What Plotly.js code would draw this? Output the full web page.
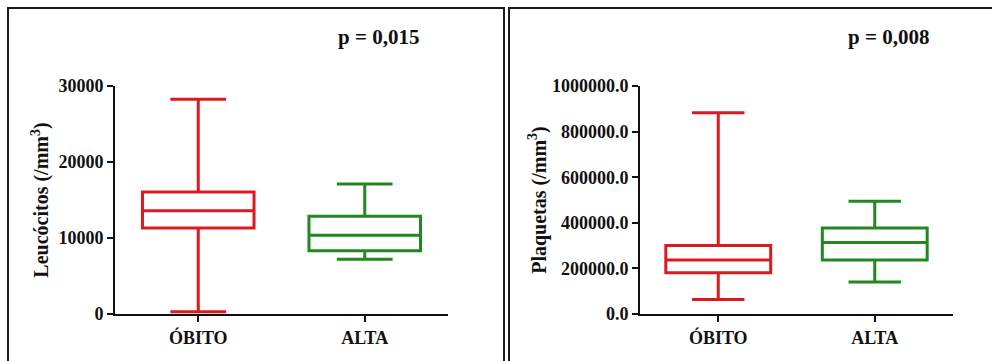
<!DOCTYPE html>
<html>
<head>
<meta charset="utf-8">
<script src="https://cdn.plot.ly/plotly-3.0.1.min.js"></script>
<style>
  html, body { margin: 0; padding: 0; background: #ffffff; }
  #chart { width: 992px; height: 361px; }
</style>
</head>
<body>
<div id="chart"></div>
<script>
// Categories
const categories = ['ÓBITO', 'ALTA'];

// Leucócitos (/mm3) box statistics [ÓBITO, ALTA]
const leucoMin    = [300, 7200];
const leucoQ1     = [11300, 8330];
const leucoMedian = [13600, 10350];
const leucoQ3     = [16050, 12850];
const leucoMax    = [28250, 17100];

// Plaquetas (/mm3) box statistics [ÓBITO, ALTA]
const plaqMin    = [64000, 140000];
const plaqQ1     = [181000, 237000];
const plaqMedian = [237000, 314000];
const plaqQ3     = [300000, 377000];
const plaqMax    = [883000, 494000];

// Axis ticks
const leucoTicks = [0, 10000, 20000, 30000];
const plaqTicks  = [0, 200000, 400000, 600000, 800000, 1000000];

// p-values
const pTexts = ['p = 0,015', 'p = 0,008'];

const colors = ['rgb(218,26,32)', 'rgb(34,136,34)'];
const serif = 'Liberation Serif, Times New Roman, serif';

const traces = [];
function addBoxes(xa, ya, mins, q1s, meds, q3s, maxs) {
  categories.forEach((c, i) => {
    traces.push({
      type: 'box',
      xaxis: xa, yaxis: ya,
      x: [c],
      lowerfence: [mins[i]],
      q1: [q1s[i]],
      median: [meds[i]],
      q3: [q3s[i]],
      upperfence: [maxs[i]],
      width: 0.67,
      whiskerwidth: 0.5,
      boxpoints: false,
      fillcolor: 'rgba(255,255,255,0)',
      line: { color: colors[i], width: 3 },
      hoverinfo: 'skip'
    });
  });
}
addBoxes('x', 'y', leucoMin, leucoQ1, leucoMedian, leucoQ3, leucoMax);
addBoxes('x2', 'y2', plaqMin, plaqQ1, plaqMedian, plaqQ3, plaqMax);

const W = 992, H = 361;
const px = v => v / W;
const py = v => 1 - v / H;

function xAxis(d0, d1, anchor) {
  return {
    domain: [px(d0), px(d1)],
    anchor: anchor,
    type: 'category',
    categoryorder: 'array',
    categoryarray: categories,
    range: [-0.5, 1.5],
    showline: true, linewidth: 2, linecolor: '#111',
    ticks: 'outside', ticklen: 6, tickwidth: 2, tickcolor: '#111',
    tickfont: { family: serif, size: 18, color: '#111', weight: 'bold' },
    showgrid: false, zeroline: false, fixedrange: true
  };
}
function yAxis(anchor, range, ticks, fmt, title, standoff) {
  return {
    domain: [py(314), py(86)],
    anchor: anchor,
    range: range,
    tickmode: 'array',
    tickvals: ticks,
    tickformat: fmt,
    showline: true, linewidth: 2, linecolor: '#111',
    ticks: 'outside', ticklen: 6, tickwidth: 2, tickcolor: '#111',
    tickfont: { family: serif, size: 18, color: '#111', weight: 'bold' },
    showgrid: false, zeroline: false, fixedrange: true,
    title: { text: title, standoff: standoff,
             font: { family: serif, size: 20, color: '#111', weight: 'bold' } }
  };
}

const layout = {
  width: W, height: H,
  margin: { l: 0, r: 0, t: 0, b: 0 },
  paper_bgcolor: '#ffffff',
  plot_bgcolor: '#ffffff',
  showlegend: false,
  boxmode: 'overlay',
  xaxis: xAxis(115, 448, 'y'),
  yaxis: yAxis('x', [0, 30000], leucoTicks, 'd', 'Leucócitos (/mm<sup>3</sup>)', 4),
  xaxis2: xAxis(640, 953, 'y2'),
  yaxis2: yAxis('x2', [0, 1000000], plaqTicks, '.1f', 'Plaquetas (/mm<sup>3</sup>)', 0),
  annotations: [
    { xref: 'paper', yref: 'paper', x: px(378), y: py(37), text: pTexts[0], showarrow: false,
      xanchor: 'center', yanchor: 'middle',
      font: { family: serif, size: 21, color: '#111', weight: 'bold' } },
    { xref: 'paper', yref: 'paper', x: px(888), y: py(37), text: pTexts[1], showarrow: false,
      xanchor: 'center', yanchor: 'middle',
      font: { family: serif, size: 21, color: '#111', weight: 'bold' } }
  ],
  shapes: [
    { type: 'rect', xref: 'paper', yref: 'paper', x0: px(8), x1: px(504), y0: py(380), y1: py(8),
      line: { color: '#1a1a1a', width: 2 } },
    { type: 'rect', xref: 'paper', yref: 'paper', x0: px(509), x1: px(1010), y0: py(380), y1: py(8),
      line: { color: '#1a1a1a', width: 2 } }
  ]
};

Plotly.newPlot('chart', traces, layout, { displayModeBar: false, staticPlot: true });
</script>
</body>
</html>
